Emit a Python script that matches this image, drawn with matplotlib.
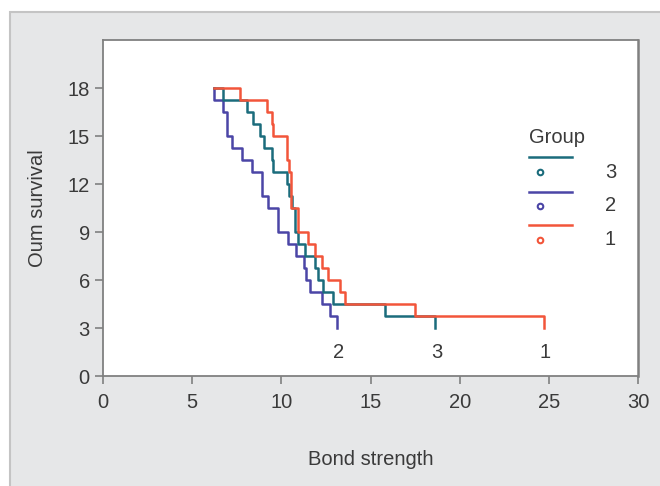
import matplotlib
matplotlib.use("Agg")
import matplotlib.pyplot as plt
from matplotlib.patches import Rectangle
from matplotlib.lines import Line2D

plt.rcParams['font.family'] = ['Liberation Sans', 'DejaVu Sans']

# step curves: time where each level starts, level after the step
g1_times = [6.23, 7.68, 9.22, 9.46, 9.55, 10.3, 10.45, 10.55, 10.95, 11.52,
            11.89, 12.27, 12.64, 13.29, 13.57, 17.5, 24.7]
g1_levels = [18, 17.25, 16.5, 15.75, 15.0, 13.5, 12.75, 10.5, 9.0, 8.25,
             7.5, 6.75, 6.0, 5.25, 4.5, 3.75, 3.0]

g2_times = [6.23, 6.23, 6.75, 6.97, 7.21, 7.77, 8.33, 8.89, 9.27, 9.83,
            10.39, 10.8, 11.24, 11.4, 11.6, 12.27, 12.7, 13.1]
g2_levels = [18, 17.25, 16.5, 15.0, 14.25, 13.5, 12.75, 11.25, 10.5, 9.0,
             8.25, 7.5, 6.75, 6.0, 5.25, 4.5, 3.75, 3.0]

g3_times = [6.23, 6.75, 8.09, 8.43, 8.8, 9.03, 9.46, 9.55, 10.3, 10.45,
            10.6, 10.75, 10.95, 11.33, 11.89, 12.08, 12.36, 12.92, 15.82, 18.62]
g3_levels = [18, 17.25, 16.5, 15.75, 15.0, 14.25, 13.5, 12.75, 12.0, 11.25,
             10.5, 9.0, 8.25, 7.5, 6.75, 6.0, 5.25, 4.5, 3.75, 3.0]

colors = {"1": "#f2553a", "2": "#4b45a6", "3": "#1b6c7c"}
xticks = [0, 5, 10, 15, 20, 25, 30]
yticks = [0, 3, 6, 9, 12, 15, 18]

FS = 14.5
TXT = "#3a3a3a"

fig = plt.figure(figsize=(6.6, 4.86), dpi=100)
bg = Rectangle((0.015, -0.01), 1.0, 0.985, transform=fig.transFigure,
               facecolor="#e6e7e8", edgecolor="#c4c4c4", lw=1.5)
bg.set_zorder(-10)
fig.add_artist(bg)

ax = fig.add_axes([0.156, 0.2263, 0.811, 0.6914])
ax.set_zorder(1)
ax.set_facecolor("white")

lw = 1.8
ax.plot(g2_times, g2_levels, drawstyle="steps-post", color=colors["2"], lw=lw)
ax.plot(g3_times, g3_levels, drawstyle="steps-post", color=colors["3"], lw=lw)
ax.plot(g1_times, g1_levels, drawstyle="steps-post", color=colors["1"], lw=lw)

# group labels under each curve end
for t, name in [(g2_times[-1], "2"), (g3_times[-1], "3"), (g1_times[-1], "1")]:
    ax.text(t + 0.1, 1.45, name, ha="center", va="center", fontsize=FS, color=TXT)

ax.set_xlim(0, 30)
ax.set_ylim(0, 21)
ax.set_xticks(xticks)
ax.set_yticks(yticks)
ax.tick_params(direction="out", length=5.5, width=1.1, color="#777777",
               labelsize=FS, labelcolor=TXT, pad=4)
ax.tick_params(axis="x", pad=7)
for s in ax.spines.values():
    s.set_color("#808080")
    s.set_linewidth(1.3)
ax.spines["right"].set_linewidth(1.8)

ax.set_xlabel("Bond strength", fontsize=FS, color=TXT, labelpad=27)
ax.set_ylabel("Oum survival", fontsize=FS, color=TXT, labelpad=15)

# legend drawn by hand
ax.text(0.849, 0.711, "Group", transform=ax.transAxes, ha="center", va="center",
        fontsize=FS, color=TXT)
rows = [("3", 0.652, 0.607), ("2", 0.548, 0.506), ("1", 0.449, 0.405)]
for name, ly, cy in rows:
    ax.add_line(Line2D([0.796, 0.877], [ly, ly], transform=ax.transAxes,
                       color=colors[name], lw=lw))
    ax.plot([0.817], [cy], transform=ax.transAxes, marker="o", ms=4,
            mfc="none", mec=colors[name], mew=1.5)
    ax.text(0.948, cy, name, transform=ax.transAxes, ha="center", va="center",
            fontsize=FS, color=TXT)

fig.savefig("out.png", dpi=100)
